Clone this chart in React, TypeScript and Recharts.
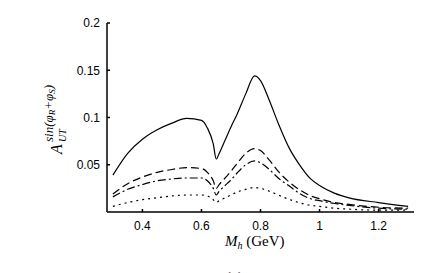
import React from 'react'
import { LineChart, Line, XAxis, YAxis } from 'recharts'

const mh = [0.3, 0.35, 0.4, 0.45, 0.5, 0.55, 0.6, 0.62, 0.64, 0.65, 0.66, 0.68, 0.7, 0.72, 0.75, 0.78, 0.8, 0.83, 0.86, 0.9, 0.93, 0.97, 1.0, 1.05, 1.1, 1.2, 1.3]
const solid = [0.039, 0.062, 0.077, 0.087, 0.094, 0.099, 0.097, 0.089, 0.072, 0.056, 0.062, 0.076, 0.09, 0.103, 0.125, 0.144, 0.139, 0.118, 0.094, 0.066, 0.051, 0.035, 0.028, 0.02, 0.015, 0.01, 0.006]
const dashed = [0.019, 0.03, 0.037, 0.042, 0.045, 0.047, 0.046, 0.042, 0.033, 0.025, 0.029, 0.036, 0.043, 0.051, 0.062, 0.067, 0.065, 0.055, 0.043, 0.031, 0.024, 0.017, 0.014, 0.01, 0.008, 0.005, 0.004]
const dashDot = [0.016, 0.024, 0.029, 0.033, 0.035, 0.036, 0.036, 0.033, 0.025, 0.018, 0.022, 0.028, 0.034, 0.041, 0.05, 0.054, 0.052, 0.045, 0.036, 0.027, 0.02, 0.014, 0.012, 0.009, 0.007, 0.004, 0.003]
const dotted = [0.006, 0.01, 0.013, 0.015, 0.017, 0.018, 0.018, 0.017, 0.013, 0.01, 0.012, 0.015, 0.018, 0.021, 0.024, 0.026, 0.025, 0.022, 0.018, 0.013, 0.01, 0.007, 0.006, 0.004, 0.003, 0.002, 0.002]

const xTicks = [0.4, 0.6, 0.8, 1, 1.2]
const yTicks = [0.05, 0.1, 0.15, 0.2]

const data = mh.map((m, i) => ({ m, a: solid[i], b: dashed[i], c: dashDot[i], d: dotted[i] }))

const tickStyle = { fill: '#000', fontSize: 12, fontFamily: 'Liberation Sans, Arial, sans-serif' }
const serif = 'Liberation Serif, Times New Roman, serif'

const YLabel = () => (
	<g transform="translate(62,154) rotate(-90)" fontFamily={serif} fill="#000">
		<text x={0} y={0} fontSize={16} fontStyle="italic">A</text>
		<text x={12} y={4} fontSize={10} fontStyle="italic">UT</text>
		<text x={12} y={-9} fontSize={13} fontStyle="italic">
			sin(φ<tspan fontSize={9} dy={2}>R</tspan><tspan dy={-2}>+φ</tspan><tspan fontSize={9} dy={2}>S</tspan><tspan dy={-2}>)</tspan>
		</text>
	</g>
)

const XLabel = () => (
	<g fontFamily={serif} fill="#000">
		<text x={225} y={246} fontSize={15}>
			<tspan fontStyle="italic">M</tspan><tspan fontSize={10} fontStyle="italic" dy={3}>h</tspan><tspan dy={-3}> (GeV)</tspan>
		</text>
		<text x={226} y={282} fontSize={15}>(a)</text>
	</g>
)

export default function App() {
	return (
		<div style={{ position: 'absolute', left: 0, top: 0 }}>
			<LineChart width={429} height={273} data={data} margin={{ top: 23, right: 15, bottom: 0, left: 0 }}>
				<XAxis
					dataKey="m"
					type="number"
					domain={[0.28, 1.32]}
					ticks={xTicks}
					allowDataOverflow
					height={61}
					stroke="#000"
					strokeWidth={1.5}
					tickSize={-3}
					tickMargin={12}
					tick={tickStyle}
					label={{ content: () => <XLabel /> }}
				/>
				<XAxis xAxisId="top" orientation="top" type="number" domain={[0, 1]} tick={false} tickLine={false} height={0} stroke="#000" strokeWidth={1.5} />
				<YAxis
					type="number"
					domain={[0, 0.2]}
					ticks={yTicks}
					width={107}
					stroke="#000"
					strokeWidth={1.5}
					tickSize={-3}
					tickMargin={10}
					tick={tickStyle}
					label={{ content: () => <YLabel /> }}
				/>
				<YAxis yAxisId="right" orientation="right" type="number" domain={[0, 1]} tick={false} tickLine={false} width={0} stroke="#000" strokeWidth={1.5} />
				<Line type="monotone" dataKey="a" stroke="#000" strokeWidth={1.2} dot={false} isAnimationActive={false} />
				<Line type="monotone" dataKey="b" stroke="#000" strokeWidth={1.2} strokeDasharray="8 4" dot={false} isAnimationActive={false} />
				<Line type="monotone" dataKey="c" stroke="#000" strokeWidth={1.2} strokeDasharray="8 3 2 3" dot={false} isAnimationActive={false} />
				<Line type="monotone" dataKey="d" stroke="#000" strokeWidth={1.2} strokeDasharray="2 4" dot={false} isAnimationActive={false} />
			</LineChart>
		</div>
	)
}
